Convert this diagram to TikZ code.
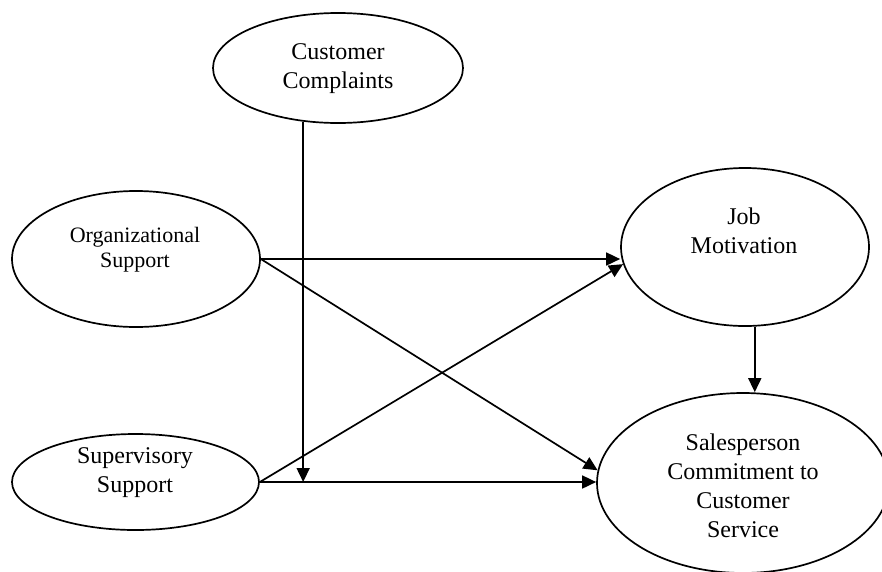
\documentclass[tikz,border=0pt]{standalone}
\usepackage{fontspec}
\setmainfont{Liberation Serif}
\usetikzlibrary{shapes.geometric,arrows.meta,calc}

\begin{document}
\begin{tikzpicture}[%
    x=1pt, y=-1pt,                           % work in picture pixels, top-down
    >={Triangle[length=14pt,width=13pt]},    % filled heads as in the model
    line width=1.7pt,
    ]
% -------------------------------------------------
% A few styles
\tikzset{
  oval/.style={draw, ellipse, inner sep=0pt},
  txt/.style={align=center, inner sep=0pt, font=\fontsize{24}{29}\selectfont},
  smalltxt/.style={txt, font=\fontsize{22}{25}\selectfont},
  norm/.style={->}
}
\useasboundingbox (0,0) rectangle (882,571);
% -------------------------------------------------
% Place the ovals
\node [oval, minimum width=250pt, minimum height=110pt] (cc) at (338,68) {};
\node [oval, minimum width=248pt, minimum height=136pt] (os) at (136,259) {};
\node [oval, minimum width=247pt, minimum height=96pt]  (ss) at (135.5,482) {};
\node [oval, minimum width=248pt, minimum height=158pt] (jm) at (745,247) {};
\node [oval, minimum width=292pt, minimum height=180pt] (sal) at (743,483) {};

% Texts, set high in the ovals
\node [txt] (cct) at (338,69) {Customer\\Complaints};
\node [smalltxt] (ost) at (135,250) {Organizational\\Support};
\node [txt] (sst) at (135,473) {Supervisory\\Support};
\node [txt] (jmt) at (744,231) {Job\\Motivation};
\node [txt] (salt) at (743,486) {Salesperson\\Commitment to\\Customer\\Service};

% Straight connections
\draw [norm] (os.east) -- (os.east -| jm.west);
\draw [norm] (os.east) -- (sal.175);
\draw [norm] (ss.east) -- (jm.188);
\draw [norm] (ss.east) -- (ss.east -| sal.west);
\draw [norm] (jm.277) -- (jm.277 |- sal.north);

% Moderator line down onto the lower path
\draw [norm] (cc.237) -- (cc.237 |- ss.east);

\end{tikzpicture}
\end{document}
